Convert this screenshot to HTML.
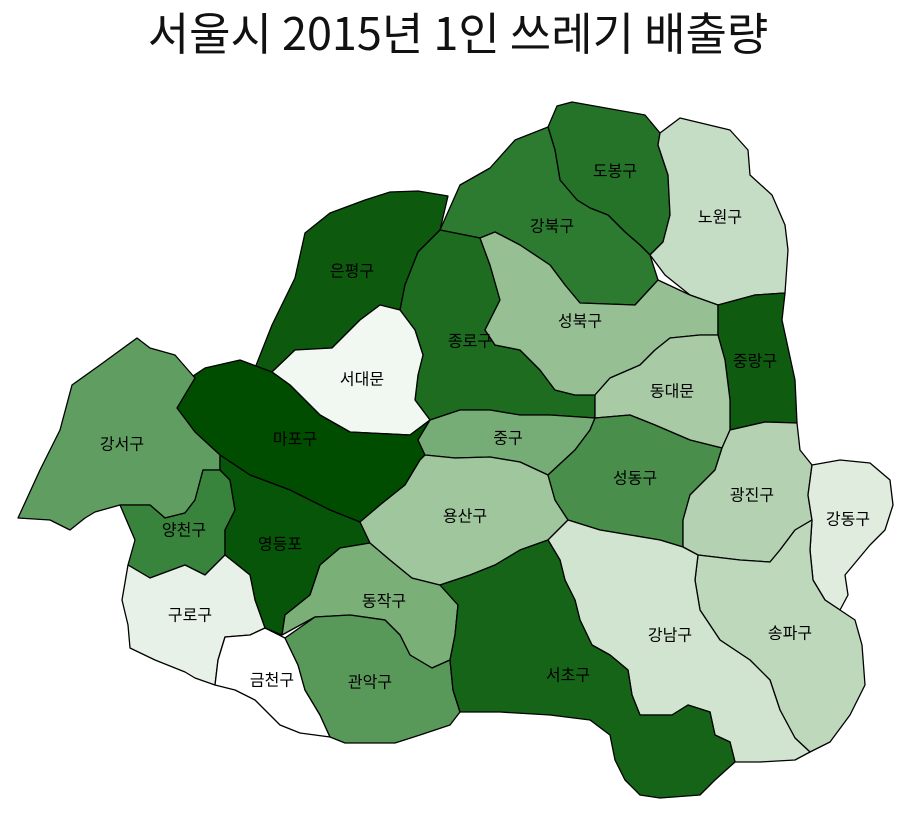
<!DOCTYPE html>
<html><head><meta charset="utf-8">
<style>
body{margin:0;background:#fff;width:916px;height:826px;overflow:hidden;font-family:"Liberation Sans","Noto Sans CJK KR",sans-serif;}
#title{position:absolute;left:0;top:0px;width:916px;text-align:center;font-size:45px;color:#111;font-family:"Noto Sans CJK KR",sans-serif;line-height:62px;}
svg{position:absolute;left:0;top:0;}
</style></head><body>
<div id="title">서울시 2015년 1인 쓰레기 배출량</div>
<svg id="map" width="916" height="826"></svg>
<script>
const districts=["도봉구","노원구","강북구","은평구","종로구","성북구","서대문","중랑구","동대문","마포구","강서구","양천구","영등포","구로구","금천구","동작구","관악구","중구","용산구","성동구","광진구","강동구","송파구","강남구","서초구"];
const values=[80,25,76,93,84,46,6,92,38,100,62,72,96,10,0,55,64,56,42,68,33,14,29,20,88];
const labelX=[615,720,552,352,470,580,362,755,672,295,122,184,280,190,272,384,370,508,465,635,752,848,790,670,568];
const labelY=[172,218,227,272,342,322,380,362,392,440,445,531,545,616,681,602,683,439,517,479,496,520,634,636,676];
const shapes=[
[[548,127],[557,106],[572,102],[645,115],[660,133],[658,145],[668,175],[670,215],[663,242],[650,255],[640,245],[625,232],[608,215],[590,208],[577,200],[560,180],[555,150]],
[[660,133],[680,118],[730,130],[748,150],[750,175],[772,195],[785,225],[788,250],[785,293],[755,295],[718,305],[690,295],[665,275],[650,255],[663,242],[670,215],[668,175],[658,145]],
[[440,230],[460,185],[490,168],[515,140],[548,127],[555,150],[560,180],[577,200],[590,208],[608,215],[625,232],[640,245],[650,255],[658,280],[635,305],[580,303],[565,285],[550,265],[520,245],[495,232],[480,238]],
[[255,368],[272,325],[295,278],[305,233],[330,213],[365,200],[390,192],[418,191],[448,196],[440,230],[418,252],[405,285],[400,310],[380,305],[360,320],[332,348],[295,350],[272,372]],
[[400,310],[405,285],[418,252],[440,230],[480,238],[490,265],[500,300],[485,330],[495,345],[520,350],[540,370],[555,390],[575,395],[595,395],[595,418],[550,415],[520,415],[490,410],[460,410],[430,420],[415,400],[418,375],[423,355],[415,330]],
[[480,238],[495,232],[520,245],[550,265],[565,285],[580,303],[635,305],[658,280],[690,295],[718,305],[718,335],[700,335],[670,338],[655,350],[640,365],[610,378],[595,395],[575,395],[555,390],[540,370],[520,350],[495,345],[485,330],[500,300],[490,265]],
[[272,372],[295,350],[332,348],[360,320],[380,305],[400,310],[415,330],[423,355],[418,375],[415,400],[430,420],[410,435],[350,432],[320,415],[290,385]],
[[718,305],[755,295],[785,293],[782,320],[795,380],[797,423],[765,422],[730,430],[730,400],[725,360],[718,335]],
[[595,395],[610,378],[640,365],[655,350],[670,338],[700,335],[718,335],[725,360],[730,400],[730,430],[722,448],[690,440],[655,425],[630,415],[595,418]],
[[177,408],[190,378],[205,368],[240,360],[272,372],[290,385],[320,415],[350,432],[410,435],[430,420],[418,440],[425,455],[420,460],[405,485],[380,505],[360,522],[330,510],[290,490],[250,475],[220,455],[195,432]],
[[18,518],[40,470],[60,430],[72,385],[100,365],[137,338],[150,348],[175,355],[195,378],[177,408],[195,432],[220,455],[220,470],[203,470],[195,500],[185,513],[165,518],[150,505],[120,505],[95,512],[85,518],[70,530],[50,520]],
[[120,505],[150,505],[165,518],[185,513],[195,500],[203,470],[220,470],[230,480],[235,510],[225,530],[225,555],[205,575],[185,565],[150,578],[128,565],[135,540]],
[[220,455],[250,475],[290,490],[330,510],[360,522],[370,543],[340,548],[320,565],[310,595],[285,615],[282,635],[265,628],[255,600],[250,575],[225,555],[225,530],[235,510],[230,480],[220,470]],
[[128,565],[150,578],[185,565],[205,575],[225,555],[250,575],[255,600],[265,628],[250,635],[225,637],[218,660],[215,685],[195,678],[185,672],[155,660],[130,648],[128,625],[122,600]],
[[218,660],[225,637],[250,635],[265,628],[285,638],[298,665],[305,690],[320,715],[330,737],[300,733],[280,725],[255,700],[235,690],[215,685]],
[[282,635],[285,615],[310,595],[320,565],[340,548],[370,543],[390,560],[412,578],[440,585],[458,605],[455,635],[450,660],[432,668],[410,655],[400,635],[385,620],[350,615],[315,617]],
[[285,638],[315,617],[350,615],[385,620],[400,635],[410,655],[432,668],[450,660],[453,690],[460,712],[450,725],[420,735],[395,743],[345,743],[330,737],[320,715],[305,690],[298,665]],
[[430,420],[460,410],[490,410],[520,415],[550,415],[595,418],[590,430],[575,450],[548,475],[520,462],[490,457],[455,458],[425,455],[418,440]],
[[360,522],[380,505],[405,485],[420,460],[425,455],[455,458],[490,457],[520,462],[548,475],[555,500],[568,520],[548,540],[520,550],[495,565],[470,575],[440,585],[412,578],[390,560],[370,543]],
[[548,475],[575,450],[590,430],[595,418],[630,415],[655,425],[690,440],[722,448],[715,470],[705,480],[690,495],[683,520],[683,547],[660,540],[630,535],[600,530],[568,520],[555,500]],
[[722,448],[730,430],[765,422],[797,423],[800,450],[812,465],[808,495],[812,520],[795,530],[780,550],[770,562],[740,560],[698,555],[683,547],[683,520],[690,495],[705,480],[715,470]],
[[812,465],[840,460],[870,463],[890,480],[893,505],[885,530],[870,545],[845,575],[848,595],[840,610],[825,600],[813,580],[810,550],[812,520],[808,495]],
[[698,555],[740,560],[770,562],[780,550],[795,530],[812,520],[810,550],[813,580],[825,600],[840,610],[855,620],[862,645],[865,685],[850,715],[830,742],[810,752],[795,738],[780,710],[770,680],[750,660],[720,640],[700,610],[695,580]],
[[548,540],[568,520],[600,530],[630,535],[660,540],[683,547],[698,555],[695,580],[700,610],[720,640],[750,660],[770,680],[780,710],[795,738],[810,752],[795,760],[760,762],[735,762],[730,742],[715,735],[710,712],[688,705],[672,715],[640,715],[632,695],[628,670],[610,655],[592,645],[580,620],[575,600],[565,580],[560,560]],
[[450,660],[455,635],[458,605],[440,585],[470,575],[495,565],[520,550],[548,540],[560,560],[565,580],[575,600],[580,620],[592,645],[610,655],[628,670],[632,695],[640,715],[672,715],[688,705],[710,712],[715,735],[730,742],[735,762],[715,780],[700,795],[660,798],[640,795],[625,780],[615,760],[610,735],[590,720],[550,715],[500,712],[460,712],[453,690]]
];
const stops=[[0,[255,255,255]],[0.5,[141,187,138]],[0.75,[46,125,50]],[1,[0,77,0]]];
function colorScale(v){
  const mn=Math.min(...values),mx=Math.max(...values);
  const t=(v-mn)/(mx-mn||1);
  for(let i=1;i<stops.length;i++){
    if(t<=stops[i][0]){
      const a=stops[i-1],b=stops[i],u=(t-a[0])/(b[0]-a[0]);
      const c=a[1].map((x,k)=>Math.round(x+(b[1][k]-x)*u));
      return `rgb(${c[0]},${c[1]},${c[2]})`;
    }
  }
  return 'rgb(0,77,0)';
}
const svg=document.getElementById('map');
const NS='http://www.w3.org/2000/svg';
districts.forEach((d,i)=>{
  const p=document.createElementNS(NS,'polygon');
  p.setAttribute('points',shapes[i].map(q=>q.join(',')).join(' '));
  p.setAttribute('fill',colorScale(values[i]));
  p.setAttribute('stroke','#000');
  p.setAttribute('stroke-width','1.3');
  p.setAttribute('stroke-linejoin','round');
  
  
  svg.appendChild(p);
});
districts.forEach((d,i)=>{
  const t=document.createElementNS(NS,'text');
  t.setAttribute('x',labelX[i]);
  t.setAttribute('y',labelY[i]);
  t.setAttribute('text-anchor','middle');
  t.setAttribute('dominant-baseline','middle');
  t.setAttribute('font-size','16');
  t.setAttribute('font-family','"Noto Sans CJK KR",sans-serif');
  t.setAttribute('fill','#000');
  t.textContent=d;
  
  
  svg.appendChild(t);
});
</script>
</body></html>
